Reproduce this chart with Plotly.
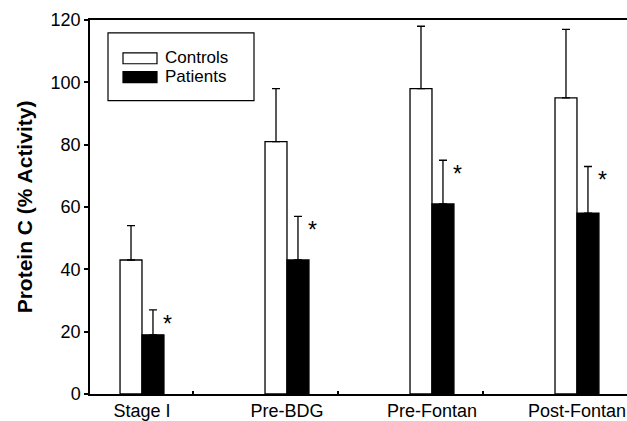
import plotly.graph_objects as go

categories = ["Stage I", "Pre-BDG", "Pre-Fontan", "Post-Fontan"]
controls = [43, 81, 98, 95]
controls_err = [11, 17, 20, 22]
patients = [19, 43, 61, 58]
patients_err = [8, 14, 14, 15]
y_ticks = [0, 20, 40, 60, 80, 100, 120]

FONT = "Liberation Sans, Arial, sans-serif"
W, H = 627, 421
L, R, T, B = 90, 0, 20, 25
PW, PH = W - L - R, H - T - B

def px(x):
    return (x - L) / PW

def py(y):
    return (H - B - y) / PH

xi = list(range(len(categories)))

fig = go.Figure()
fig.add_trace(go.Bar(
    x=xi, y=controls, name="Controls",
    marker=dict(color="white", line=dict(color="black", width=1.3)),
    error_y=dict(type="data", array=controls_err, arrayminus=[0] * 4,
                 symmetric=False, color="black", thickness=1.3, width=4),
    showlegend=False,
))
fig.add_trace(go.Bar(
    x=xi, y=patients, name="Patients",
    marker=dict(color="black", line=dict(color="black", width=1.3)),
    error_y=dict(type="data", array=patients_err, arrayminus=[0] * 4,
                 symmetric=False, color="black", thickness=1.3, width=4),
    showlegend=False,
))

# significance asterisks above patients' error bars
for i, (v, e) in enumerate(zip(patients, patients_err)):
    fig.add_annotation(x=i, y=v + e, text="*", showarrow=False,
                       xshift=26, yshift=-14,
                       font=dict(family=FONT, size=23, color="black"))

# manual legend
fig.add_shape(type="rect", xref="paper", yref="paper",
              x0=px(108), x1=px(254), y0=py(101), y1=py(33),
              line=dict(color="black", width=1.2), fillcolor="white")
fig.add_shape(type="rect", xref="paper", yref="paper",
              x0=px(123), x1=px(157), y0=py(64), y1=py(53),
              line=dict(color="black", width=1.2), fillcolor="white")
fig.add_shape(type="rect", xref="paper", yref="paper",
              x0=px(123), x1=px(157), y0=py(83), y1=py(72),
              line=dict(color="black", width=1.2), fillcolor="black")
for name, yc in [("Controls", 58), ("Patients", 77)]:
    fig.add_annotation(xref="paper", yref="paper", x=px(163), y=py(yc),
                       xanchor="left", yanchor="middle", text=name,
                       showarrow=False,
                       font=dict(family=FONT, size=17, color="black"))

boundaries = [i + 0.352 for i in xi[:-1]]

fig.update_layout(
    width=W, height=H,
    margin=dict(l=L, r=R, t=T, b=B),
    paper_bgcolor="white", plot_bgcolor="white",
    barmode="group", bargap=0.697, bargroupgap=0,
    font=dict(family=FONT, size=18, color="black"),
    xaxis=dict(
        range=[-0.3586, 3.345], tickmode="array", tickvals=xi,
        ticktext=categories, ticks="", showgrid=False, zeroline=False,
        showline=True, linecolor="black", linewidth=1.5, mirror=True,
        tickfont=dict(size=18), ticklabelstandoff=0,
        minor=dict(tickmode="array", tickvals=boundaries, ticks="inside",
                   ticklen=3, tickwidth=1.5, tickcolor="black"),
    ),
    yaxis=dict(
        range=[0, 120], tickmode="array", tickvals=y_ticks,
        ticks="outside", ticklen=4, tickwidth=1.5, tickcolor="black",
        showgrid=False, zeroline=False,
        showline=True, linecolor="black", linewidth=1.5,
        tickfont=dict(size=18),
        title=dict(text="<b>Protein C (% Activity)</b>",
                   font=dict(size=21), standoff=12),
    ),
)

fig.write_html("out.html", config={"displayModeBar": False},
               post_script="document.body.style.margin='0';")
